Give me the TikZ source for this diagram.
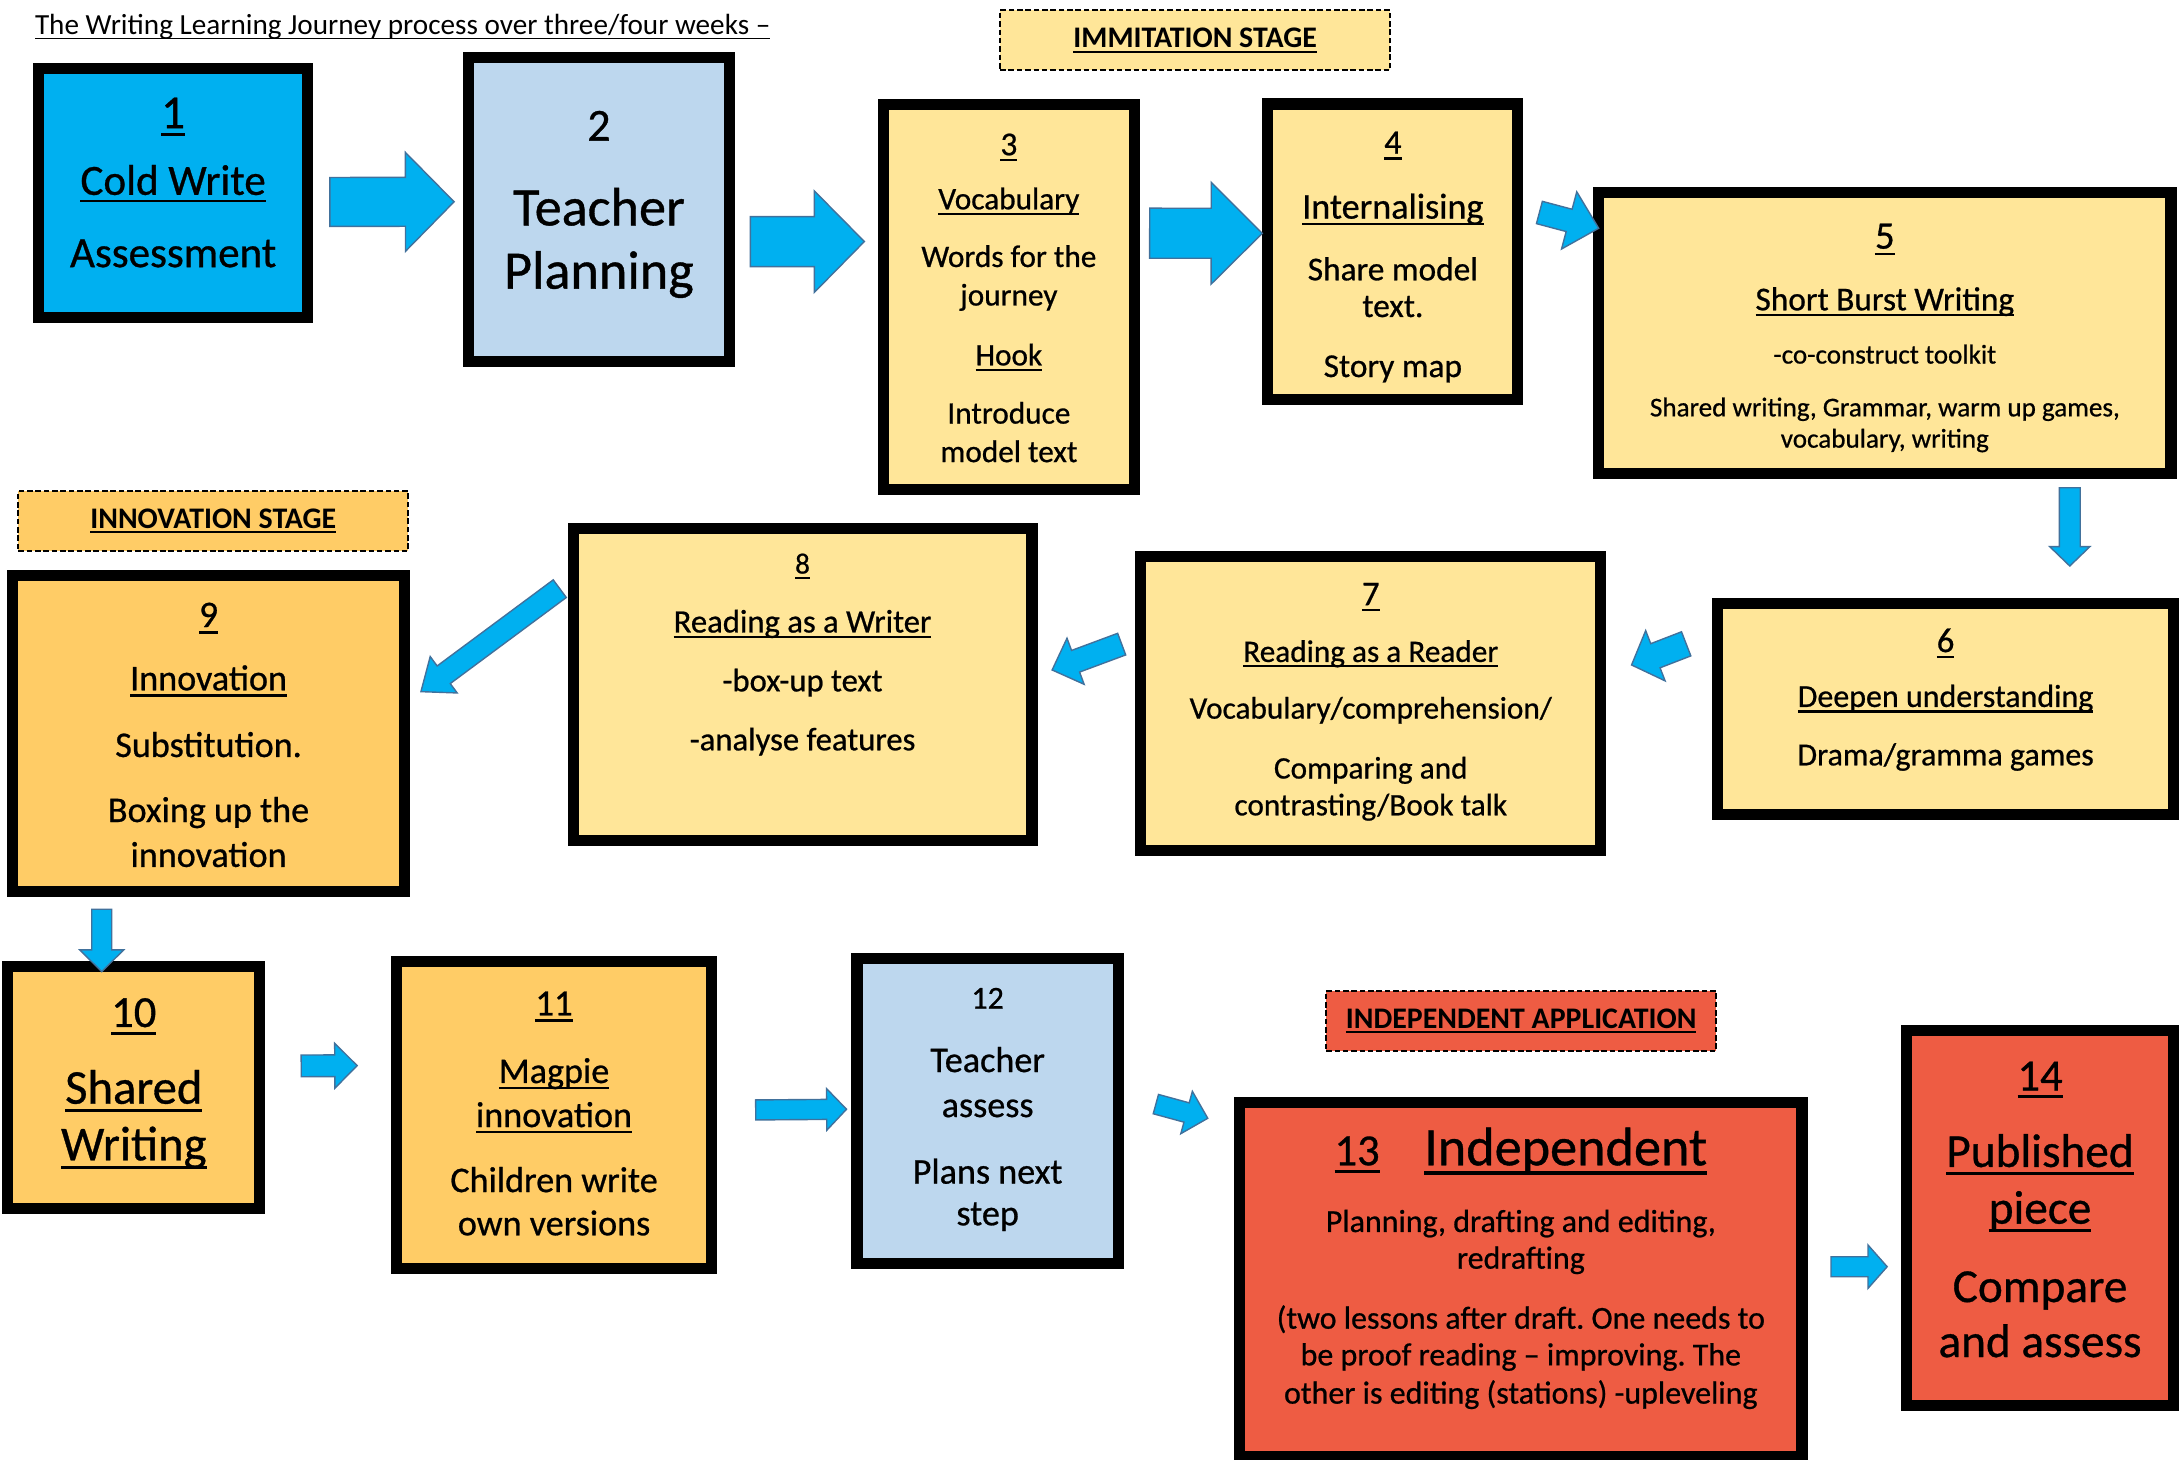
\documentclass[tikz,border=0pt]{standalone}
\usepackage{fontspec}
\setmainfont{Carlito}
\newfontfamily\boxface{Carlito}[FakeBold=0.7, Ligatures=TeX]
\usetikzlibrary{calc}
\definecolor{cyanbox}{HTML}{00B0F0}
\definecolor{bluebox}{HTML}{BDD7EE}
\definecolor{yellowbox}{HTML}{FFE699}
\definecolor{orangebox}{HTML}{FFCC66}
\definecolor{redbox}{HTML}{EE5C43}
\definecolor{arrowline}{HTML}{41719C}
\frenchspacing
\newcommand\fsize[1]{\fontsize{#1}{#1}\selectfont}
\newcommand\boxfont[2]{\boxface\fontsize{#1}{#2}\selectfont\lineskiplimit=-100pt\relax}
\newcommand\toprow{\rule{0pt}{30pt}}
\newcommand\uln[1]{\leavevmode\setbox0=\hbox{#1}\rlap{\vrule width\wd0 height -0.11em depth 0.175em}\box0}
\newcommand\flowarrow[5]{%
  \coordinate (fa-s) at (#1);
  \coordinate (fa-e) at (#2);
  \coordinate (fa-h) at ($(fa-e)!#5pt!(fa-s)$);
  \filldraw[arrowfill] ($(fa-s)!#3pt!90:(fa-e)$) -- ($(fa-h)!#3pt!-90:(fa-s)$)
    -- ($(fa-h)!#4pt!-90:(fa-s)$) -- (fa-e) -- ($(fa-h)!#4pt!90:(fa-s)$)
    -- ($(fa-h)!#3pt!90:(fa-s)$) -- ($(fa-s)!#3pt!-90:(fa-e)$) -- cycle;}
\tikzset{
  stepbox/.style={draw=black, line width=8pt, inner sep=0pt, outer sep=0pt},
  boxsize/.style 2 args={minimum width=#1pt, minimum height=#2pt},
  boxtext/.style={anchor=north, align=center, inner sep=0pt},
  stagebox/.style={draw=black, line width=1.4pt, dash pattern=on 4pt off 2pt, inner sep=0pt,
    minimum width=280.6pt, minimum height=43pt, font=\bfseries\fsize{21.5}},
  arrowfill/.style={fill=cyanbox, draw=arrowline, line width=1pt, line join=miter}
}
\begin{document}
\begin{tikzpicture}[x=1pt, y=-1pt]
\path[use as bounding box, fill=white] (0,0) rectangle (1568,1050);

\node[anchor=base west, inner sep=0pt, font=\fsize{21}] (title) at (25,24.7)
  {\uln{The Writing Learning Journey process over three/four weeks --}};

\node[stagebox, fill=yellowbox] (imm) at (860,29) {\uln{IMMITATION STAGE}};
\node[stagebox, fill=orangebox] (inno) at (153.5,374.9) {\uln{INNOVATION STAGE}};
\node[stagebox, fill=redbox] (indep) at (1094.6,734.7) {\uln{INDEPENDENT APPLICATION}};

\node[stepbox, boxsize={193.5}{179.1}, fill=cyanbox] (b1) at (124.6,138.6) {};
\node[stepbox, boxsize={187.3}{218.7}, fill=bluebox] (b2) at (431,150.5) {};
\node[stepbox, boxsize={180.2}{276.7}, fill=yellowbox] (b3) at (726,213.8) {};
\node[stepbox, boxsize={179.9}{212.6}, fill=yellowbox] (b4) at (1002.3,181.1) {};
\node[stepbox, boxsize={411.8}{202.1}, fill=yellowbox] (b5) at (1356.3,239.8) {};
\node[stepbox, boxsize={328.1}{152}, fill=yellowbox] (b6) at (1400,510.1) {};
\node[stepbox, boxsize={330.9}{211.7}, fill=yellowbox] (b7) at (986.4,506.1) {};
\node[stepbox, boxsize={330.2}{224.2}, fill=yellowbox] (b8) at (577.5,492.7) {};
\node[stepbox, boxsize={282.2}{227.5}, fill=orangebox] (b9) at (150.1,527.9) {};
\node[stepbox, boxsize={181.3}{174.3}, fill=orangebox] (b10) at (96.3,782.4) {};
\node[stepbox, boxsize={227.2}{221}, fill=orangebox] (b11) at (398.7,802.2) {};
\node[stepbox, boxsize={188.1}{219.4}, fill=bluebox] (b12) at (710.7,799.7) {};
\node[stepbox, boxsize={404.6}{254.8}, fill=redbox] (b13) at (1094.4,920.6) {};
\node[stepbox, boxsize={192}{269.6}, fill=redbox] (b14) at (1468,876.4) {};

\node[boxtext, font=\boxfont{31}{50}] (t1) at (b1.center |- 0,62)
  {{\fsize{34}\uln{1}}\toprow\\[-2pt] \uln{Cold Write}\\[2pt] Assessment};
\node[boxtext, font=\boxfont{39}{45.5}] (t2) at (b2.center |- 0,71)
  {{\fsize{33}2}\toprow\\[15.5pt] Teacher\\ Planning};
\node[boxtext, font=\boxfont{22.5}{27.7}] (t3) at (b3.center |- 0,81.5)
  {{\fsize{24}\uln{3}}\toprow\\[11.2pt] \uln{Vocabulary}\\[13.8pt] Words for the\\ journey\\[15.4pt]
   \uln{Hook}\\[14.2pt] Introduce\\ model text};
\node[boxtext, font=\boxfont{24}{26.4}] (t4) at (b4.center |- 0,80.3)
  {{\fsize{24.5}\uln{4}}\toprow\\[20.4pt] {\fsize{26}\uln{Internalising}}\\[18pt] Share model\\ text.\\[16.8pt] Story map};
\node[boxtext, font=\boxfont{19.5}{22.5}] (t5) at (b5.center |- 0,148.7)
  {{\fsize{28}\uln{5}}\toprow\\[21.9pt] {\fsize{24}\uln{Short Burst Writing}}\\[15.8pt] -co-construct toolkit\\[15.5pt]
   Shared writing, Grammar, warm up games,\\ vocabulary, writing};
\node[boxtext, font=\boxfont{23}{40}] (t6) at (b6.center |- 0,439)
  {{\fsize{25}\uln{6}}\toprow\\[-0.5pt] \uln{Deepen understanding}\\[2pt] Drama/gramma games};
\node[boxtext, font=\boxfont{22.5}{26.5}] (t7) at (b7.center |- 0,405.3)
  {{\fsize{25}\uln{7}}\toprow\\[14.3pt] \uln{Reading as a Reader}\\[14.3pt] Vocabulary/comprehension/\\[16.6pt]
   Comparing and\\ contrasting/Book talk};
\node[boxtext, font=\boxfont{23.5}{42.4}] (t8) at (b8.center |- 0,382.5)
  {{\fsize{21}\uln{8}}\toprow\\ \uln{Reading as a Writer}\\ -box-up text\\ -analyse features};
\node[boxtext, font=\boxfont{26}{32.3}] (t9) at (b9.center |- 0,421)
  {{\fsize{27}\uln{9}}\toprow\\[13.2pt] \uln{Innovation}\\[15.7pt] Substitution.\\[14.5pt] Boxing up the\\ innovation};
\node[boxtext, font=\boxfont{35}{40.7}] (t10) at (b10.center |- 0,708.8)
  {{\fsize{32}\uln{10}}\toprow\\[14.5pt] \uln{Shared}\\ \uln{Writing}};
\node[boxtext, font=\boxfont{26}{31.4}] (t11) at (b11.center |- 0,700.4)
  {{\fsize{26.5}\uln{11}}\toprow\\[17.3pt] \uln{Magpie}\\[0.3pt] \uln{innovation}\\[15.4pt] Children write\\[-0.3pt] own versions};
\node[boxtext, font=\boxfont{26}{31.2}] (t12) at (b12.center |- 0,695.6)
  {{\fsize{23}12}\toprow\\[14.4pt] Teacher\\[1.2pt] assess\\[16.7pt] Plans next\\[-1.2pt] step};
\node[boxtext, font=\boxfont{23}{26.7}] (t13) at (b13.center |- 0,808.3)
  {{\fsize{32}\uln{13}}\hspace{32pt}{\fsize{39}\uln{Independent}}\toprow\\[21.3pt]
   Planning, drafting and editing,\\[-0.3pt] redrafting\\[16.5pt]
   (two lessons after draft. One needs to\\[-0.3pt] be proof reading -- improving. The\\[0.8pt]
   other is editing (stations) -upleveling};
\node[boxtext, font=\boxfont{34}{40.4}] (t14) at (b14.center |- 0,754.4)
  {{\fsize{32}\uln{14}}\toprow\\[14.7pt] \uln{Published}\\[0.4pt] \uln{piece}\\[16pt] Compare\\[-0.8pt] and assess};

\flowarrow{$(b1.east)+(16,6.7)$}{$(b2.west)+(-10.6,-5.3)$}{17.6}{35.6}{35}
\flowarrow{$(b2.east)+(15.3,23.4)$}{$(b3.west)+(-13.9,-40)$}{18}{36.5}{36}
\flowarrow{$(b3.east)+(11.2,-46)$}{$(b4.west)+(-4,-13.2)$}{18}{36.6}{36.8}
\flowarrow{$(b4.east)+(15.5,-28.2)$}{$(b5.north west)+(0,25.5)$}{8.3}{21.3}{22}
\flowarrow{$(b5.south)+(133.1,10.1)$}{$(b6.north)+(89.4,-26.8)$}{7.5}{14.5}{14}
\flowarrow{$(b6.west)+(-22.6,-46.8)$}{$(b7.east)+(22.2,-27.6)$}{9.3}{19.4}{18.4}
\flowarrow{$(b7.west)+(-13.8,-42.6)$}{$(b8.east)+(14.5,-10.6)$}{8.3}{17.7}{18}
\flowarrow{$(b8.west)+(-9.6,-69.1)$}{$(b9.east)+(11.7,-30.2)$}{7.9}{16.3}{20.4}
\flowarrow{$(b9.south)+(-76.9,12.6)$}{$(b10.north)+(-23.1,3.9)$}{7.2}{15.8}{15.6}
\flowarrow{$(b10.east)+(29.8,-15.4)$}{$(b11.west)+(-28.1,-35.4)$}{7.8}{16.2}{16.1}
\flowarrow{$(b11.east)+(31.5,-3.5)$}{$(b12.west)+(-7.5,-1.5)$}{7.2}{15}{14.3}
\flowarrow{$(b12.east)+(27,-5.2)$}{$(b13.north west)+(-23,11.5)$}{7.2}{15.8}{15.8}
\flowarrow{$(b13.east)+(20.9,-9.1)$}{$(b14.west)+(-14,35.1)$}{7.2}{15.6}{13.8}
\end{tikzpicture}
\end{document}
